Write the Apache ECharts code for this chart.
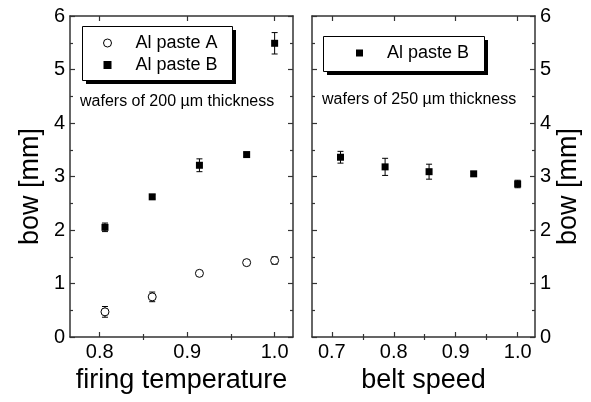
<!DOCTYPE html>
<html>
<head>
<meta charset="utf-8">
<script src="https://cdn.jsdelivr.net/npm/echarts@6/dist/echarts.min.js"></script>
<style>html,body{margin:0;padding:0;background:#fff}#c{width:591px;height:402px}</style>
</head>
<body>
<div id="c"></div>
<script>
// ---- data ----
const tempX = [0.806, 0.860, 0.914, 0.968, 1.000];
const pasteA = [0.47, 0.75, 1.19, 1.39, 1.43];
const pasteAErr = [0.10, 0.09, 0.04, 0.03, 0.07];
const pasteB = [2.05, 2.62, 3.21, 3.41, 5.49];
const pasteBErr = [0.08, 0.04, 0.12, 0.03, 0.20];
const beltX = [0.714, 0.786, 0.857, 0.929, 1.000];
const beltB = [3.36, 3.18, 3.09, 3.05, 2.86];
const beltBErr = [0.11, 0.16, 0.14, 0.04, 0.07];
const tempMajor = [0.8, 0.9, 1.0];
const tempMinor = [0.85, 0.95];
const beltMajor = [0.7, 0.8, 0.9, 1.0];
const beltMinor = [0.75, 0.85, 0.95];
const labelA = 'Al paste A';
const labelB = 'Al paste B';
const xTitleLeft = 'firing temperature';
const xTitleRight = 'belt speed';
const yTitle = 'bow [mm]';
const noteLeft = 'wafers of 200 µm thickness';
const noteRight = 'wafers of 250 µm thickness';

const FONT = "'Liberation Sans', Arial, sans-serif";
const AX = '#333';

function pts(xs, ys) { return xs.map((x, i) => [x, ys[i]]); }
function errPts(xs, ys, es) { return xs.map((x, i) => [x, ys[i], es[i]]); }

function xAx(grid, min, max, pos, ticks, len, opts) {
  return Object.assign({
    type: 'value', gridIndex: grid, min: min, max: max, position: pos,
    axisLine: { show: true, onZero: false, lineStyle: { color: AX, width: 1.5 } },
    axisTick: { show: true, inside: true, length: len, customValues: ticks, lineStyle: { color: AX, width: 1.2 } },
    axisLabel: { show: false },
    splitLine: { show: false }
  }, opts || {});
}
function xLabels(ticks) {
  return { show: true, customValues: ticks, margin: 5, fontSize: 20, fontFamily: FONT, color: '#000',
    formatter: v => Number(v).toFixed(1) };
}
function yAx(grid, pos, showLabel, opts) {
  return Object.assign({
    type: 'value', gridIndex: grid, min: 0, max: 6, interval: 1, position: pos,
    axisLine: { show: true, onZero: false, lineStyle: { color: AX, width: 1.5 } },
    axisTick: { show: true, inside: true, length: 5, lineStyle: { color: AX, width: 1.2 } },
    minorTick: { show: true, splitNumber: 2, length: 3, lineStyle: { color: AX, width: 1.2 } },
    axisLabel: { show: showLabel, margin: 5, fontSize: 20, fontFamily: FONT, color: '#000' },
    splitLine: { show: false }
  }, opts || {});
}

function errSeries(name, xi, yi, data) {
  return {
    type: 'custom', name: name, xAxisIndex: xi, yAxisIndex: yi, z: 1,
    encode: { x: 0, y: 1 },
    data: data,
    renderItem: function (params, api) {
      const x = api.value(0), y = api.value(1), e = api.value(2);
      const top = api.coord([x, y + e]);
      const bot = api.coord([x, y - e]);
      const w = 3;
      const st = { stroke: '#000', lineWidth: 1 };
      return { type: 'group', children: [
        { type: 'line', shape: { x1: top[0], y1: top[1], x2: bot[0], y2: bot[1] }, style: st },
        { type: 'line', shape: { x1: top[0] - w, y1: top[1], x2: top[0] + w, y2: top[1] }, style: st },
        { type: 'line', shape: { x1: bot[0] - w, y1: bot[1], x2: bot[0] + w, y2: bot[1] }, style: st }
      ]};
    }
  };
}

function legendBox(x, y, w, h) {
  return [
    { type: 'rect', left: x + 4, top: y + 4, z: 5, shape: { width: w, height: h }, style: { fill: '#000' } },
    { type: 'rect', left: x, top: y, z: 6, shape: { width: w, height: h }, style: { fill: '#fff', stroke: '#000', lineWidth: 1 } }
  ];
}

const chart = echarts.init(document.getElementById('c'), null, { renderer: 'canvas' });
chart.setOption({
  backgroundColor: '#fff',
  animation: false,
  grid: [
    { left: 70, top: 16, width: 223, height: 321 },
    { left: 312, top: 16, width: 223, height: 321 }
  ],
  xAxis: [
    xAx(0, 0.766, 1.021, 'bottom', tempMajor, 5, {
      axisLabel: xLabels(tempMajor),
      name: xTitleLeft, nameLocation: 'middle', nameGap: 30,
      nameTextStyle: { fontSize: 27, fontFamily: FONT, color: '#000' }
    }),
    xAx(0, 0.766, 1.021, 'bottom', tempMinor, 3, { axisLine: { show: false } }),
    xAx(0, 0.766, 1.021, 'top', tempMajor, 5),
    xAx(0, 0.766, 1.021, 'top', tempMinor, 3, { axisLine: { show: false } }),
    xAx(1, 0.668, 1.028, 'bottom', beltMajor, 5, {
      axisLabel: xLabels(beltMajor),
      name: xTitleRight, nameLocation: 'middle', nameGap: 30,
      nameTextStyle: { fontSize: 27, fontFamily: FONT, color: '#000' }
    }),
    xAx(1, 0.668, 1.028, 'bottom', beltMinor, 3, { axisLine: { show: false } }),
    xAx(1, 0.668, 1.028, 'top', beltMajor, 5),
    xAx(1, 0.668, 1.028, 'top', beltMinor, 3, { axisLine: { show: false } })
  ],
  yAxis: [
    yAx(0, 'left', true, {
      name: yTitle, nameLocation: 'middle', nameGap: 26, nameRotate: 90,
      nameTextStyle: { fontSize: 27, fontFamily: FONT, color: '#000', padding: [0, 20, 0, 0] }
    }),
    yAx(0, 'right', false),
    yAx(1, 'left', false),
    yAx(1, 'right', true, {
      name: yTitle, nameLocation: 'middle', nameGap: 20, nameRotate: 90,
      nameTextStyle: { fontSize: 27, fontFamily: FONT, color: '#000', padding: [0, 20, 0, 0] }
    })
  ],
  legend: [
    {
      orient: 'vertical', selectedMode: false, z: 10,
      left: 82, top: 26, padding: [8, 10, 6, 21], itemWidth: 8, itemHeight: 8, itemGap: 4,
      textStyle: { fontSize: 18, fontFamily: FONT, color: '#000', padding: [0, 0, 0, 19] },
      data: [
        { name: labelA, icon: 'circle', itemStyle: { color: '#fff', borderColor: '#000', borderWidth: 1 } },
        { name: labelB, icon: 'rect', itemStyle: { color: '#000', borderWidth: 0 } }
      ]
    },
    {
      orient: 'vertical', selectedMode: false, z: 10,
      left: 323, top: 36, padding: [8, 10, 9, 33], itemWidth: 7, itemHeight: 7,
      textStyle: { fontSize: 18, fontFamily: FONT, color: '#000', padding: [0, 0, 0, 19] },
      data: [ { name: labelB, icon: 'rect', itemStyle: { color: '#000', borderWidth: 0 } } ]
    }
  ],
  graphic: [].concat(
    legendBox(82, 26, 150, 54),
    legendBox(323, 36, 161, 35),
    [
      { type: 'text', left: 80, top: 94, style: { text: noteLeft, font: '16px ' + FONT, fill: '#000' } },
      { type: 'text', left: 322, top: 92, style: { text: noteRight, font: '16px ' + FONT, fill: '#000' } }
    ]
  ),
  series: [
    errSeries('errA', 0, 0, errPts(tempX, pasteA, pasteAErr)),
    errSeries('errB', 0, 0, errPts(tempX, pasteB, pasteBErr)),
    errSeries('errBelt', 4, 2, errPts(beltX, beltB, beltBErr)),
    { type: 'scatter', name: labelA, xAxisIndex: 0, yAxisIndex: 0, z: 3,
      symbol: 'circle', symbolSize: 8,
      itemStyle: { color: '#fff', borderColor: '#000', borderWidth: 1, opacity: 1 },
      data: pts(tempX, pasteA) },
    { type: 'scatter', name: labelB, xAxisIndex: 0, yAxisIndex: 0, z: 3,
      symbol: 'rect', symbolSize: 7, itemStyle: { color: '#000', opacity: 1 },
      data: pts(tempX, pasteB) },
    { type: 'scatter', name: labelB, xAxisIndex: 4, yAxisIndex: 2, z: 3,
      symbol: 'rect', symbolSize: 7, itemStyle: { color: '#000', opacity: 1 },
      data: pts(beltX, beltB) }
  ]
});
</script>
</body>
</html>
